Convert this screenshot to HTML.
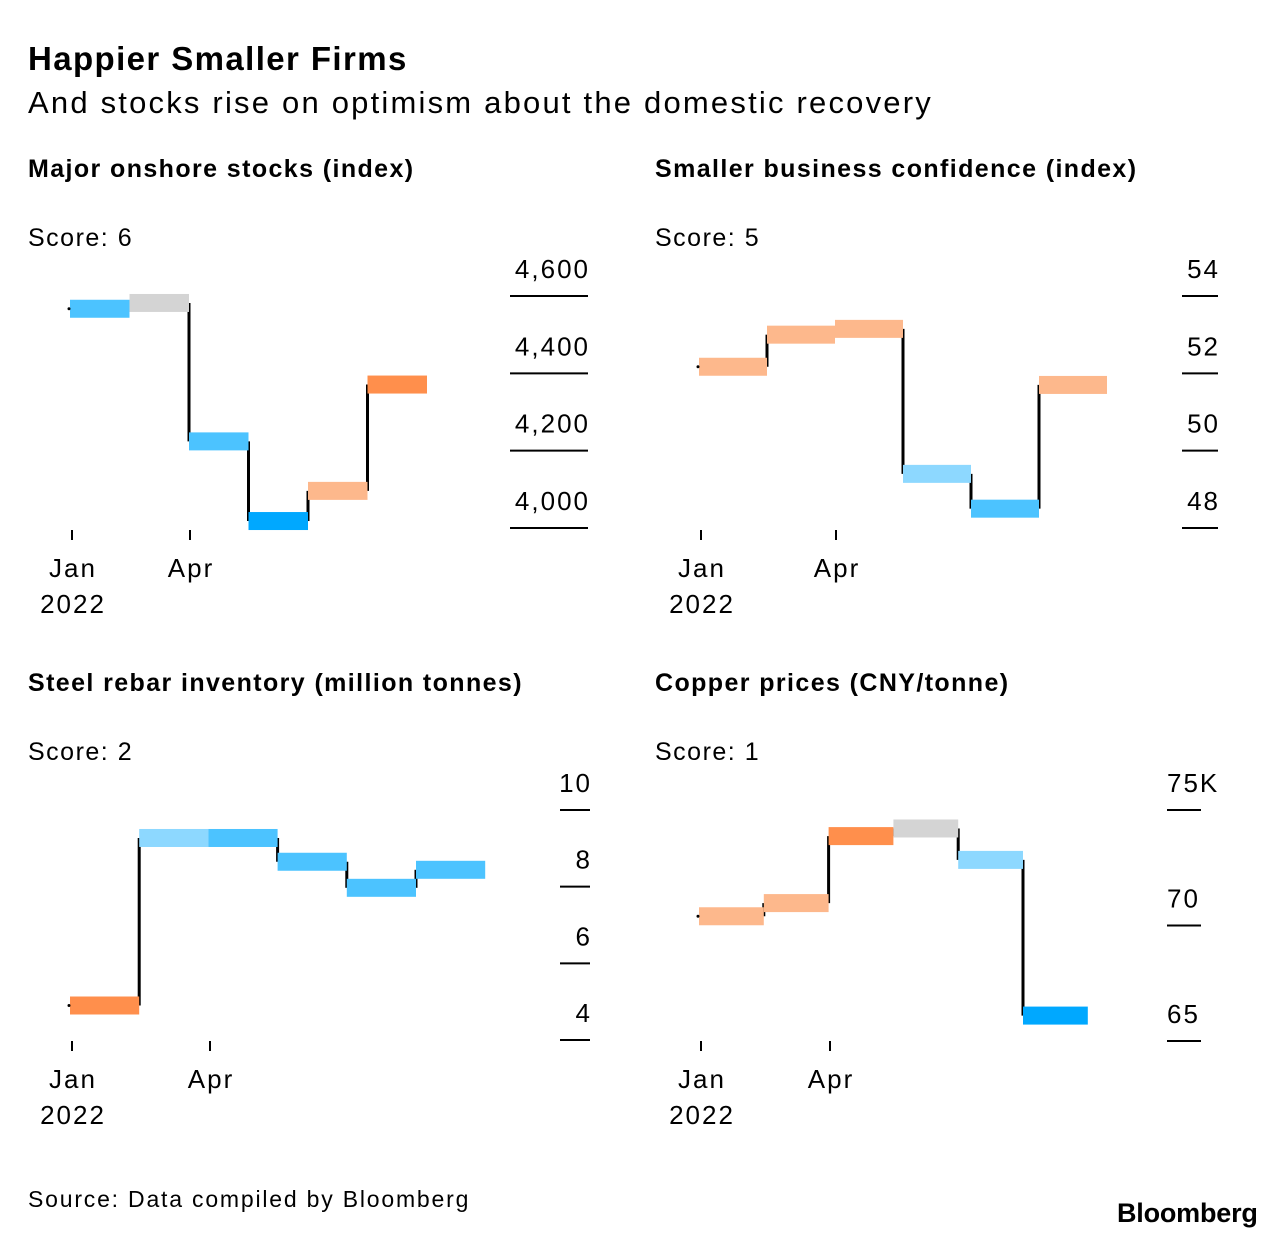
<!DOCTYPE html>
<html><head><meta charset="utf-8"><style>
html,body{margin:0;padding:0;background:#fff;}
body{width:1285px;height:1240px;position:relative;font-family:"Liberation Sans",sans-serif;color:#000;overflow:hidden;}
.t{position:absolute;white-space:nowrap;}
svg{position:absolute;left:0;top:0;}
svg text{letter-spacing:2px;}
</style></head><body>
<div class="t" style="left:28px;top:40px;font-size:33px;font-weight:bold;letter-spacing:1.4px">Happier Smaller Firms</div>
<div class="t" style="left:28px;top:85px;font-size:31px;letter-spacing:2.2px">And stocks rise on optimism about the domestic recovery</div>
<div class="t" style="left:28px;top:155px;font-size:25px;font-weight:bold;letter-spacing:1.4px">Major onshore stocks (index)</div>
<div class="t" style="left:655px;top:155px;font-size:25px;font-weight:bold;letter-spacing:1.4px">Smaller business confidence (index)</div>
<div class="t" style="left:28px;top:669px;font-size:25px;font-weight:bold;letter-spacing:1.4px">Steel rebar inventory (million tonnes)</div>
<div class="t" style="left:655px;top:669px;font-size:25px;font-weight:bold;letter-spacing:1.4px">Copper prices (CNY/tonne)</div>
<div class="t" style="left:28px;top:224px;font-size:25px;letter-spacing:1.5px">Score: 6</div>
<div class="t" style="left:655px;top:224px;font-size:25px;letter-spacing:1.5px">Score: 5</div>
<div class="t" style="left:28px;top:738px;font-size:25px;letter-spacing:1.5px">Score: 2</div>
<div class="t" style="left:655px;top:738px;font-size:25px;letter-spacing:1.5px">Score: 1</div>
<div class="t" style="left:28px;top:1186px;font-size:23px;letter-spacing:1.8px">Source: Data compiled by Bloomberg</div>
<div class="t" style="left:1117px;top:1198px;font-size:27px;font-weight:bold;letter-spacing:-0.2px">Bloomberg</div>
<svg id="c" width="1285" height="1240"></svg>
<script>
const LB='#4cc3ff',VB='#00a8ff',PB='#8dd8ff',GR='#d4d4d4',LO='#fdb88c',OR='#ff8f4c';
const p1Values=[4567,4582,4224,4018,4096,4371];
const p1Colors=[LB,GR,LB,VB,LO,OR];
const p1Ticks=[4000,4200,4400,4600];
const p1TickLabels=['4,000','4,200','4,400','4,600'];
const p2Values=[52.17,53.0,53.15,49.4,48.5,51.7];
const p2Colors=[LO,LO,LO,PB,LB,LO];
const p2Ticks=[48,50,52,54];
const p2TickLabels=['48','50','52','54'];
const p3Values=[4.9,9.27,9.27,8.65,7.97,8.44];
const p3Colors=[OR,PB,LB,LB,LB,LB];
const p3Ticks=[4,6,8,10];
const p3TickLabels=['4','6','8','10'];
const p4Values=[70.4,70.97,73.87,74.2,72.84,66.1];
const p4Colors=[LO,LO,OR,GR,PB,VB];
const p4Ticks=[65,70,75];
const p4TickLabels=['65','70','75K'];
const xLabels=['Jan','Apr'];
const svg=document.getElementById('c');const NS='http://www.w3.org/2000/svg';
function mk(t,a){const e=document.createElementNS(NS,t);for(const k in a)e.setAttribute(k,a[k]);svg.appendChild(e);return e;}
function panel(id,vals,cols,ticks,labels,cfg){
  const y=v=>cfg.y0+(v-cfg.v0)*(cfg.y1-cfg.y0)/(cfg.v1-cfg.v0);
  const x=i=>cfg.x0+i*cfg.step;
  ticks.forEach((t,i)=>{
    const l=mk('line',{x1:cfg.gx1,x2:cfg.gx2,y1:y(t),y2:y(t),stroke:'#000','stroke-width':2});
    
    
    const tx=mk('text',{x:cfg.anchor==='start'?cfg.gx1:cfg.gx2+2,y:y(t)-18,'font-size':26,'text-anchor':cfg.anchor,'font-family':'Liberation Sans, sans-serif'});
    tx.textContent=labels[i];
    
    
  });
  vals.forEach((v,i)=>{
    if(i>0){const c=mk('line',{x1:x(i),x2:x(i),y1:y(vals[i-1]),y2:y(v),stroke:'#000','stroke-width':3});
      
      }
  });
  vals.forEach((v,i)=>{
    const r=mk('rect',{x:x(i),y:y(v)-9,width:cfg.step,height:18,fill:cols[i]});
    
    
  });
  mk('circle',{cx:x(0)-1,cy:y(vals[0]),r:1.5,fill:'#000'});
  cfg.xt.forEach((xx,i)=>{
    const l=mk('line',{x1:xx,x2:xx,y1:cfg.ty,y2:cfg.ty+10,stroke:'#000','stroke-width':2});
    
    
    const t=mk('text',{x:xx+1,y:cfg.ty+47,'font-size':26,'text-anchor':'middle','font-family':'Liberation Sans, sans-serif'});
    t.textContent=xLabels[i];
    
    
  });
  const yr=mk('text',{x:cfg.xt[0]+1,y:cfg.ty+83,'font-size':26,'text-anchor':'middle','font-family':'Liberation Sans, sans-serif'});
  yr.textContent='2022';
  
  
}
panel('stocks',p1Values,p1Colors,p1Ticks,p1TickLabels,{v0:4000,v1:4600,y0:528,y1:296,x0:70,step:59.5,gx1:510,gx2:588,anchor:'end',xt:[72,190],ty:530});
panel('confidence',p2Values,p2Colors,p2Ticks,p2TickLabels,{v0:48,v1:54,y0:528,y1:296,x0:699,step:68,gx1:1182,gx2:1218,anchor:'end',xt:[701,836],ty:530});
panel('rebar',p3Values,p3Colors,p3Ticks,p3TickLabels,{v0:4,v1:10,y0:1040,y1:810,x0:70,step:69.2,gx1:560,gx2:590,anchor:'end',xt:[72,210],ty:1041});
panel('copper',p4Values,p4Colors,p4Ticks,p4TickLabels,{v0:65,v1:75,y0:1041,y1:810,x0:699,step:64.8,gx1:1167,gx2:1201,anchor:'start',xt:[701,830],ty:1041});
</script>
</body></html>
